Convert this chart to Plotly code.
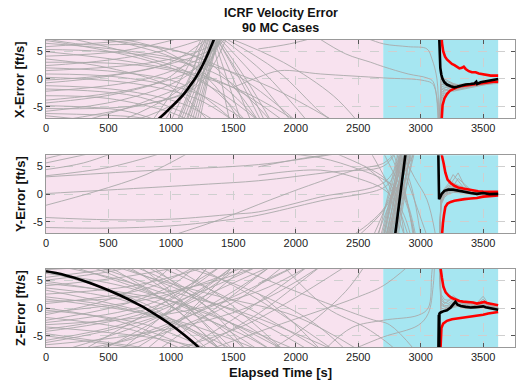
import plotly.graph_objects as go

# ---------------- axes ----------------
x_ticks = [0, 500, 1000, 1500, 2000, 2500, 3000, 3500]
y_ticks = [-5, 0, 5]
y_tick_text = ["-5", "0", "5"]
x_max = 3755
y_lim = 7

# mission phases shaded behind the curves
phase_bounds = [0, 2700, 3620]
phase_fill = ["#f8e2ef", "#a6e6f1"]

panel_titles = ["X-Error [ft/s]", "Y-Error [ft/s]", "Z-Error [ft/s]"]

# common sample times of the converged tail of every MC case [s]
tail_t = [3147, 3162, 3190, 3220, 3260, 3300, 3350, 3400, 3450, 3500, 3550, 3620]

# ---------------- X component ----------------
x_cases = [
    [(0, 7.2), (300, 6.2), (900, 5.8), (1500, 1.0), (2000, -7.5)],
    [(0, 6.9), (500, 5.0), (1000, 2.0), (1400, -2.5), (1700, -7.5)],
    [(0, 6.4), (600, 5.2), (1300, 2.5), (1800, -1.5), (2300, -7.5)],
    [(0, 5.8), (500, 6.6), (1000, 7.5)],
    [(0, 5.3), (800, 4.2), (1400, 0.5), (1800, -7.5)],
    [(0, 4.9), (700, 3.0), (1400, -0.5), (1900, -7.5)],
    [(0, 4.1), (600, 5.0), (1100, 7.5)],
    [(0, 3.6), (500, 2.0), (1000, -1.5), (1300, -7.5)],
    [(0, 3.0), (800, 2.3), (1500, -1.5), (2000, -7.5)],
    [(0, 2.4), (500, 3.4), (1000, 5.4), (1300, 7.5)],
    [(0, 2.0), (600, 1.2), (1100, -1.0), (1500, -7.5)],
    [(0, 1.5), (800, 2.8), (1200, 4.8), (1450, 7.5)],
    [(0, 0.9), (600, 0.3), (1200, -2.5), (1600, -7.5)],
    [(0, 0.3), (700, -0.8), (1200, -3.5), (1500, -7.5)],
    [(0, -0.2), (700, 1.3), (1300, 5.0), (1450, 7.5)],
    [(0, -0.7), (500, 0.5), (1000, 3.0), (1300, 7.5)],
    [(0, -1.2), (600, -2.0), (1100, -4.5), (1350, -7.5)],
    [(0, -1.8), (700, -3.0), (1100, -6.0), (1250, -7.5)],
    [(0, -2.2), (800, 0.0), (1300, 4.5), (1450, 7.5)],
    [(0, -3.0), (500, -3.5), (1000, -6.0), (1150, -7.5)],
    [(0, -3.8), (700, -1.8), (1200, 2.0), (1400, 7.5)],
    [(0, -4.3), (600, -2.5), (1000, 0.5), (1300, 7.5)],
    [(0, -4.8), (600, -5.6), (900, -7.5)],
    [(0, -5.3), (800, -4.5), (1200, -1.0), (1350, 7.5)],
    [(0, -5.8), (600, -3.8), (1100, 0.2), (1350, 5.5), (1420, 7.5)],
    [(0, -6.2), (700, -6.8), (900, -7.5)],
    [(0, -6.6), (400, -7.5)],
    [(100, -7.5), (700, -5.0), (1200, -1.5), (1450, 7.5)],
    [(150, 7.5), (700, 4.5), (1200, 0.5), (1600, -7.5)],
    [(250, 7.5), (800, 6.0), (1300, 3.0), (1700, -7.5)],
    [(300, -7.5), (800, -4.0), (1250, 1.0), (1400, 7.5)],
    [(400, 7.5), (1000, 4.0), (1400, -1.0), (1700, -7.5)],
    [(500, 7.5), (900, 5.5), (1300, 0.0), (1550, -7.5)],
    [(600, -7.5), (1000, -3.0), (1300, 3.0), (1400, 7.5)],
    [(700, -7.5), (1050, -4.0), (1250, 2.0), (1320, 7.5)],
    [(850, -7.5), (1080, 0.0), (1250, 7.5)],
    [(950, -7.5), (1120, -1.0), (1280, 7.5)],
    [(1000, -7.5), (1150, 0.0), (1260, 7.5)],
    [(1050, -7.5), (1180, 0.0), (1290, 7.5)],
    [(1060, -7.5), (1160, -2.0), (1310, 7.5)],
    [(1080, -7.5), (1200, 0.0), (1300, 7.5)],
    [(1100, -7.5), (1220, 0.0), (1320, 7.5)],
    [(1120, -7.5), (1240, 0.0), (1340, 7.5)],
    [(1130, -7.5), (1230, -1.0), (1330, 7.5)],
    [(1150, -7.5), (1250, 0.0), (1345, 7.5)],
    [(1170, -7.5), (1265, 0.0), (1360, 7.5)],
    [(1190, -7.5), (1280, 0.0), (1370, 7.5)],
    [(1210, -7.5), (1290, 0.0), (1375, 7.5)],
    [(1230, -7.5), (1300, 0.0), (1380, 7.5)],
    [(1330, 7.5), (1400, 0.0), (1470, -7.5)],
    [(1340, 7.5), (1450, 0.0), (1560, -7.5)],
    [(1350, 7.5), (1500, 0.0), (1640, -7.5)],
    [(1360, 7.5), (1500, 2.5), (1650, -3.0), (1750, -7.5)],
    [(1360, 7.5), (1550, 0.0), (1720, -7.5)],
    [(1370, 7.5), (1600, 0.0), (1800, -7.5)],
    [(1380, 7.5), (1650, 1.0), (1960, -7.5)],
    [(1400, 7.5), (1750, 1.0), (2090, -7.5)],
    [(1420, 7.5), (1850, 1.5), (2200, -6.0), (2300, -7.5)],
    [(1450, 7.5), (1900, 3.0), (2300, -3.0), (2490, -7.5)],
    [(1700, 5.4), (1950, 6.3), (2160, 7.5)],
    [(1500, -1.5), (1700, 0.3), (1875, 1.5), (2200, 0.9), (2700, 0.2),
     (3030, -0.3), (3100, -1.0), (3145, -9.0)],
    [(2170, 7.5), (2400, 4.5), (2600, 3.0), (2703, 2.2), (2900, 0.9),
     (3050, 0.2), (3100, -0.5), (3140, -9.0)],
    [(2550, 7.5), (2703, 6.3), (2900, 5.8), (3050, 5.4), (3090, 3.6),
     (3130, 0.0), (3145, -9.0)],
]
x_tails = [
    [-12, -3.0, -2.0, -1.8, -1.9, -1.7, -1.5, -1.3, -1.1, -0.9, -0.8, -0.6],
    [-12, -2.0, -1.5, -1.5, -1.6, -1.5, -1.3, -1.2, -1.0, -0.8, -0.6, -0.4],
    [-12, -1.0, -0.8, -1.0, -1.2, -1.3, -1.1, -0.9, -0.8, -0.7, -0.5, -0.3],
    [-12, -4.0, -2.6, -2.3, -2.0, -1.9, -1.6, -1.4, -1.2, -1.0, -0.9, -0.7],
    [-12, 0.0, -0.3, -0.6, -0.9, -1.0, -0.9, -0.7, -0.6, -0.5, -0.3, -0.1],
    [-12, -2.5, -1.9, -2.1, -2.2, -2.0, -1.8, -1.5, -1.3, -1.1, -0.9, -0.8],
    [-12, -1.5, -1.2, -1.3, -1.5, -1.6, -1.4, -1.0, -0.9, -0.6, -0.4, -0.2],
    [-12, 0.5, 0.0, -0.4, -0.8, -1.1, -1.2, -1.1, -0.9, -0.8, -0.6, -0.4],
    [-12, -3.5, -2.3, -1.7, -1.4, -1.3, -1.2, -1.1, -0.9, -0.6, -0.5, -0.3],
    [-12, -1.0, -1.0, -1.4, -1.8, -1.8, -1.6, -1.4, -1.2, -1.0, -0.7, -0.5],
    [-12, -2.0, -1.7, -1.2, -1.0, -1.2, -1.3, -1.3, -1.1, -0.9, -0.7, -0.5],
    [-12, -0.5, -0.6, -0.9, -1.1, -1.4, -1.5, -1.2, -1.0, -0.7, -0.6, -0.4],
]
x_nominal = [
    (880, -7.6), (950, -6.2), (1000, -5.1), (1050, -4.0), (1100, -2.8),
    (1150, -1.3), (1200, 0.3), (1250, 2.3), (1300, 4.7), (1350, 7.4),
    (1380, 9.0), None,
    (3146, 9.0), (3150, 4.0), (3157, 2.0), (3165, 0.8), (3175, 0.0),
    (3190, -0.6), (3210, -1.0), (3240, -1.3), (3270, -1.5), (3290, -1.4),
    (3320, -1.2), (3360, -1.0), (3400, -0.9), (3430, -0.8), (3445, -0.5),
    (3452, -0.9), (3480, -0.6), (3520, -0.4), (3560, -0.2), (3600, 0.0),
    (3620, 0.0),
]
x_upper = [
    (3165, 9.0), (3170, 6.5), (3180, 5.0), (3195, 4.0), (3210, 3.5),
    (3230, 3.0), (3250, 2.7), (3270, 2.5), (3290, 2.2), (3310, 1.9),
    (3330, 2.0), (3345, 2.2), (3360, 1.8), (3385, 1.4), (3410, 1.2),
    (3440, 1.2), (3465, 1.0), (3490, 0.9), (3520, 0.7), (3560, 0.6),
    (3620, 0.6),
]
x_lower = [
    (3163, -9.0), (3167, -6.5), (3175, -4.7), (3190, -3.5), (3210, -2.7),
    (3235, -2.1), (3260, -1.8), (3290, -1.5), (3320, -1.3), (3350, -1.2),
    (3380, -1.1), (3410, -1.0), (3440, -0.9), (3470, -0.8), (3500, -0.7),
    (3540, -0.6), (3580, -0.5), (3620, -0.5),
]

# ---------------- Y component ----------------
y_cases = [
    [(0, 6.4), (200, 7.5)],
    [(0, 5.6), (400, 7.5)],
    [(0, 4.4), (300, 5.6), (550, 7.5)],
    [(0, 3.3), (500, 4.8), (950, 7.5)],
    [(0, 3.1), (800, 4.2), (1700, 5.3), (2200, 6.8), (2400, 7.5)],
    [(0, 0.1), (700, 1.0), (1300, 1.8), (1700, 2.4), (2300, 4.0), (2700, 5.0), (2800, 7.5)],
    [(0, -2.0), (400, 0.5), (800, 3.5), (1150, 7.5)],
    [(0, -4.2), (500, -4.6), (1000, -4.5), (1500, -3.6), (1700, -3.2), (2200, -0.5),
     (2714, 2.2), (2850, 7.5)],
    [(0, -6.0), (500, -6.1), (1000, -5.7), (1500, -4.5), (1700, -3.8), (2200, -1.2),
     (2714, 1.3), (2800, 4.0), (2880, 7.5)],
    [(1000, -7.5), (1400, -4.5), (1800, -1.0), (2100, 1.5), (2500, 4.5), (2700, 5.5), (2800, 7.5)],
    [(1700, 4.9), (2050, 6.4), (2400, 7.5)],
    [(1800, 7.5), (2200, 6.5), (2500, 4.5), (2714, 2.5), (2850, 0.0), (2950, -7.5)],
    [(1700, 3.4), (2200, 4.3), (2500, 2.8), (2714, 0.7), (2850, -3.0), (2920, -7.5)],
    [(2300, 7.5), (2550, 5.0), (2714, 2.8), (2800, 0.0), (2870, -7.5)],
    [(2450, -7.5), (2600, -5.0), (2714, -2.3), (2800, 2.0), (2870, 7.5)],
    [(2620, -7.5), (2730, -1.5), (2830, 7.5)],
    [(2650, -7.5), (2760, -1.0), (2880, 7.5)],
    [(2660, -7.5), (2740, 0.0), (2820, 7.5)],
    [(2680, -7.5), (2760, -0.5), (2850, 7.5)],
    [(2690, -7.5), (2770, 0.0), (2840, 7.5)],
    [(2700, -7.5), (2780, 0.0), (2860, 7.5)],
    [(2705, -7.5), (2775, 0.5), (2835, 7.5)],
    [(2710, -7.5), (2785, 0.5), (2845, 7.5)],
    [(2720, -7.5), (2800, 0.0), (2880, 7.5)],
    [(2725, -7.5), (2805, 0.5), (2890, 7.5)],
    [(2730, -7.5), (2790, 0.0), (2850, 7.5)],
    [(2735, -7.5), (2800, -1.0), (2875, 7.5)],
    [(2740, -7.5), (2810, 0.0), (2870, 7.5)],
    [(2745, -7.5), (2815, -0.5), (2890, 7.5)],
    [(2750, -7.5), (2825, 0.0), (2910, 7.5)],
    [(2755, -7.5), (2820, 0.5), (2885, 7.5)],
    [(2760, -7.5), (2830, 0.0), (2900, 7.5)],
    [(2765, -7.5), (2845, 0.0), (2930, 7.5)],
    [(2770, -7.5), (2835, 0.0), (2895, 7.5)],
    [(2780, -7.5), (2850, 0.0), (2920, 7.5)],
    [(2790, -7.5), (2855, 0.5), (2915, 7.5)],
    [(2800, -7.5), (2870, 0.0), (2940, 7.5)],
    [(2810, -7.5), (2860, 0.0), (2920, 7.5)],
    [(2820, -7.5), (2880, 0.5), (2950, 7.5)],
    [(2500, -7.5), (2700, -3.0), (2850, 3.0), (2950, 7.5)],
    [(2600, 7.5), (2700, 3.5), (2800, -1.0), (2900, -7.5)],
    [(2550, 5.0), (2700, 2.0), (2800, -3.0), (2870, -7.5)],
    [(2700, 7.5), (2800, 3.0), (2900, -2.0), (2960, -7.5)],
    [(2750, 7.5), (2850, 2.0), (2950, -7.5)],
    [(2780, 7.5), (2880, 0.0), (2940, -7.5)],
    [(2800, 7.5), (2900, 2.0), (2980, -3.0), (3050, -7.5)],
    [(2830, 7.5), (2930, 1.0), (3000, -7.5)],
    [(2850, 7.5), (2950, 3.0), (3050, -1.0), (3120, -7.5)],
]
y_tails = [
    [-12, -1.0, 0.2, 0.6, 0.9, 0.7, 0.5, 0.3, 0.1, 0.2, 0.0, 0.0],
    [-12, -0.5, 0.6, 1.2, 1.6, 1.2, 0.7, 0.4, 0.2, 0.1, 0.1, 0.1],
    [-12, -1.5, -0.3, 0.2, 0.5, 0.4, 0.3, 0.1, 0.0, -0.1, 0.0, -0.1],
    [-12, -0.2, 1.0, 1.8, 3.5, 2.4, 1.0, 0.6, 0.3, 0.2, 0.2, 0.1],
    [-12, -0.8, 0.4, 1.0, 2.5, 3.8, 1.5, 0.7, 0.4, 0.3, 0.2, 0.1],
    [-12, -2.0, -0.6, 0.0, 0.3, 0.3, 0.2, 0.0, -0.2, -0.1, -0.1, -0.1],
    [-12, -1.2, 0.0, 0.5, 1.2, 1.0, 0.8, 0.5, 0.3, 0.1, 0.1, 0.0],
    [-12, -0.6, 0.8, 1.5, 2.0, 1.6, 1.0, 0.6, 0.4, 0.3, 0.2, 0.1],
    [-12, -1.8, -0.2, 0.4, 0.7, 0.6, 0.6, 0.4, 0.2, 0.0, 0.0, 0.0],
    [-12, -1.0, 0.3, 0.9, 1.4, 2.8, 1.8, 0.8, 0.4, 0.2, 0.1, 0.0],
]
y_nominal = [
    (2785, -9.0), (2797, -7.0), (2837, 0.0), (2877, 7.0), (2885, 8.5), None,
    (3140, 9.0), (3143, 2.0), (3147, -0.9), (3155, -0.6), (3170, 0.1),
    (3190, 0.6), (3220, 0.8), (3260, 0.8), (3300, 0.6), (3350, 0.4),
    (3400, 0.2), (3450, 0.05), (3500, 0.2), (3550, 0.0), (3620, 0.05),
]
y_upper = [
    (3165, 9.0), (3170, 6.9), (3184, 5.5), (3197, 3.9), (3215, 2.6),
    (3240, 2.0), (3270, 1.5), (3300, 1.2), (3340, 1.0), (3380, 0.8),
    (3420, 0.6), (3460, 0.5), (3500, 0.45), (3540, 0.4), (3580, 0.45),
    (3620, 0.4),
]
y_lower = [
    (3165, -9.0), (3170, -7.0), (3178, -5.2), (3186, -3.8), (3197, -2.3),
    (3215, -1.7), (3240, -1.4), (3270, -1.2), (3300, -1.05), (3350, -0.9),
    (3400, -0.8), (3450, -0.7), (3500, -0.45), (3550, -0.4), (3620, -0.25),
]

# ---------------- Z component ----------------
z_cases = [
    [(0, 6.9), (500, 7.5)],
    [(0, 6.5), (400, 4.0), (900, -0.5), (1300, -7.5)],
    [(0, 6.2), (600, 4.0), (1400, -2.0), (2000, -7.5)],
    [(0, 5.5), (700, 7.5)],
    [(0, 5.0), (500, 6.5), (700, 7.5)],
    [(0, 4.8), (800, 1.5), (1500, -4.0), (1800, -7.5)],
    [(0, 4.4), (700, 2.5), (1200, 0.0), (1900, -7.5)],
    [(0, 4.0), (600, 5.5), (1100, 7.5)],
    [(0, 3.6), (600, 1.5), (1100, -3.0), (1400, -7.5)],
    [(0, 3.2), (900, -1.5), (1500, -7.5)],
    [(0, 2.5), (700, 4.0), (1300, 7.5)],
    [(0, 2.0), (600, 0.0), (1100, -3.5), (1400, -7.5)],
    [(0, 1.6), (1000, -2.0), (1700, -7.5)],
    [(0, 1.2), (700, 2.0), (1300, 4.5), (1700, 7.5)],
    [(0, 0.8), (800, 3.5), (1200, 7.5)],
    [(0, 0.0), (600, -2.5), (1200, -7.5)],
    [(0, -0.4), (800, -3.0), (1300, -7.5)],
    [(0, -0.8), (900, 2.0), (1600, 7.5)],
    [(0, -1.2), (500, 1.5), (900, 5.5), (1000, 7.5)],
    [(0, -1.7), (700, -4.0), (1100, -7.5)],
    [(0, -2.2), (600, 0.5), (1000, 4.0), (1200, 7.5)],
    [(0, -2.6), (800, 0.5), (1400, 7.5)],
    [(0, -3.0), (1000, -1.0), (1700, 3.0), (2100, 7.5)],
    [(0, -3.4), (900, -5.5), (1300, -7.5)],
    [(0, -3.8), (500, -2.0), (1000, 1.5), (1400, 7.5)],
    [(0, -4.2), (700, -1.5), (1300, 3.5), (1700, 7.5)],
    [(0, -4.6), (900, -7.5)],
    [(0, -5.0), (500, -6.5), (800, -7.5)],
    [(0, -5.8), (600, -3.0), (1100, 1.5), (1500, 7.5)],
    [(0, -6.2), (500, -4.0), (1000, -0.5), (1400, 5.0), (1550, 7.5)],
    [(0, -6.6), (800, -4.5), (1600, 0.0), (2200, 7.5)],
    [(100, 7.5), (600, 5.0), (1100, 1.0), (1600, -7.5)],
    [(150, -7.5), (700, -3.5), (1400, 3.5), (1800, 7.5)],
    [(200, 7.5), (800, 3.0), (1300, -2.0), (1700, -7.5)],
    [(250, -7.5), (700, -5.5), (1100, -2.0), (1500, 3.0), (1800, 7.5)],
    [(300, -7.5), (800, -1.0), (1200, 5.0), (1300, 7.5)],
    [(350, 7.5), (900, 2.0), (1400, -7.5)],
    [(400, 7.5), (1000, 3.0), (1600, -1.0), (2300, -7.5)],
    [(400, -7.5), (900, -3.5), (1400, 1.0), (2000, 7.5)],
    [(450, -7.5), (900, -2.0), (1300, 4.0), (1500, 7.5)],
    [(500, 7.5), (1000, 0.5), (1400, -7.5)],
    [(550, 7.5), (900, 5.0), (1400, 2.0), (2000, -1.5), (2500, -7.5)],
    [(550, -7.5), (1000, -4.0), (1500, 1.0), (1900, 7.5)],
    [(600, 7.5), (1100, 3.0), (1700, -2.5), (2100, -7.5)],
    [(600, -7.5), (1000, 0.0), (1300, 7.5)],
    [(650, 7.5), (1000, 2.5), (1500, -7.5)],
    [(700, 7.5), (1000, 4.5), (1300, 0.0), (1600, -7.5)],
    [(700, -7.5), (1100, -1.5), (1500, 7.5)],
    [(750, 7.5), (1100, 1.0), (1450, -7.5)],
    [(800, 7.5), (1200, 2.5), (1600, -3.0), (1900, -7.5)],
    [(800, -7.5), (1200, 0.0), (1600, 7.5)],
    [(850, 7.5), (1300, 0.0), (1800, -7.5)],
    [(900, 7.5), (1250, 4.0), (1700, -1.0), (2200, -7.5)],
    [(900, -7.5), (1300, -1.0), (1800, 7.5)],
    [(1000, 7.5), (1400, 2.0), (1900, -7.5)],
    [(1000, -7.5), (1600, -3.0), (2400, 7.5)],
    [(1100, 7.5), (1600, 3.5), (2100, -2.0), (2400, -7.5)],
    [(1100, -7.5), (1500, -2.0), (2100, 7.5)],
    [(1200, 7.5), (1700, 1.5), (2300, -7.5)],
    [(1200, -7.5), (1700, -1.0), (2000, 4.0), (2200, 7.5)],
    [(1300, -7.5), (1800, -3.5), (2500, 2.0), (2700, 4.0), (2900, 7.5)],
    [(1500, 7.5), (2000, 3.0), (2600, -2.0), (2750, -3.0), (2950, -7.5)],
    [(1700, 4.4), (1850, 6.0), (2000, 7.5)],
    [(1700, 2.6), (1950, -2.0), (2200, -7.5)],
    [(1800, -7.5), (2100, -3.0), (2400, 3.0), (2550, 7.5)],
    [(1900, 7.5), (2250, 0.0), (2550, -3.4), (2720, -6.0), (2800, -7.5)],
    [(2230, -7.5), (2450, -3.5), (2700, -2.2), (2980, -1.3), (3060, 0.0),
     (3088, 6.0), (3100, 9.0)],
    [(2450, -7.5), (2700, -5.2), (2980, -3.1), (3060, -1.0), (3100, 4.0),
     (3112, 9.0)],
]
z_tails = [
    [12, 1.0, 0.5, 0.3, 0.6, 0.8, 0.4, 0.2, 0.3, 0.4, 0.1, -0.2],
    [12, 0.0, -0.2, 0.1, 0.9, 1.3, 0.6, 0.3, 0.5, 0.7, 0.2, -0.1],
    [12, 2.0, 1.0, 0.8, 1.4, 1.0, 0.7, 0.4, 0.6, 1.6, 0.3, 0.0],
    [12, -0.5, -0.5, -0.2, 0.3, 0.6, 0.2, 0.0, 0.1, 0.2, -0.1, -0.3],
    [12, 1.5, 0.8, 1.2, 1.8, 1.2, 0.8, 0.6, 0.7, 0.9, 0.4, 0.1],
    [12, 0.5, 0.2, 0.0, 0.4, 0.5, 0.3, 0.1, 0.2, 0.3, 0.0, -0.2],
    [12, -0.8, -0.6, -0.4, 0.1, 0.3, 0.0, -0.1, 0.0, 0.1, -0.2, -0.4],
    [12, 2.5, 1.5, 1.4, 2.2, 1.5, 1.0, 0.7, 0.9, 2.1, 0.5, 0.1],
    [12, 0.8, 0.3, 0.5, 1.1, 0.9, 0.5, 0.3, 0.4, 0.5, 0.2, 0.0],
]
z_nominal = [
    (0, 6.6), (100, 6.2), (200, 5.6), (300, 4.9), (400, 4.1), (500, 3.2),
    (600, 2.2), (700, 1.1), (800, -0.1), (900, -1.5), (1000, -3.0),
    (1100, -4.7), (1200, -6.6), (1260, -8.0), None,
    (3141, -9.0), (3145, -1.2), (3148, -9.0), (3150, -1.0), (3160, -0.8),
    (3180, -0.6), (3210, -0.4), (3240, 0.1), (3265, 0.8), (3278, 1.1),
    (3295, 0.6), (3320, 0.35), (3360, 0.2), (3400, 0.1), (3440, 0.15),
    (3480, 0.25), (3500, 0.3), (3520, 0.15), (3560, 0.0), (3600, -0.2),
    (3620, -0.3),
]
z_upper = [
    (3155, 9.0), (3160, 7.0), (3170, 5.4), (3182, 3.8), (3200, 2.8),
    (3225, 2.2), (3250, 1.8), (3280, 1.45), (3310, 1.25), (3340, 1.15),
    (3380, 1.1), (3420, 1.0), (3450, 0.8), (3480, 0.95), (3510, 1.1),
    (3530, 0.9), (3570, 0.75), (3620, 0.5),
]
z_lower = [
    (3155, -9.0), (3160, -6.0), (3166, -3.6), (3180, -2.8), (3210, -2.3),
    (3250, -2.0), (3300, -1.85), (3350, -1.7), (3400, -1.6), (3450, -1.4),
    (3500, -1.2), (3540, -1.0), (3580, -0.85), (3620, -0.7),
]

panels = [
    (x_cases, x_tails, x_nominal, x_upper, x_lower),
    (y_cases, y_tails, y_nominal, y_upper, y_lower),
    (z_cases, z_tails, z_nominal, z_upper, z_lower),
]

GRAY = "#a9a9a9"
FONT = "Liberation Sans, Arial, Helvetica, sans-serif"


def unzip(points):
    ts, vs = [], []
    for p in points:
        if p is None:
            ts.append(None)
            vs.append(None)
        else:
            ts.append(p[0])
            vs.append(p[1])
    return ts, vs


def join_strands(strands):
    ts, vs = [], []
    for s in strands:
        a, b = unzip(s)
        ts += a + [None]
        vs += b + [None]
    return ts, vs


def split_segments(points):
    segs, cur = [], []
    for p in points:
        if p is None:
            segs.append(cur)
            cur = []
        else:
            cur.append(p)
    segs.append(cur)
    return [s for s in segs if s]


fig = go.Figure()
domains = [[0.746, 1.0], [0.371, 0.625], [0.0, 0.254]]

for i, (cases, tails, nominal, upper, lower) in enumerate(panels):
    k = "" if i == 0 else str(i + 1)
    xa, ya = "x" + k, "y" + k

    t, v = join_strands(cases)
    fig.add_trace(go.Scatter(x=t, y=v, mode="lines", xaxis=xa, yaxis=ya,
                             line=dict(color=GRAY, width=0.9, shape="spline"),
                             hoverinfo="skip", showlegend=False))
    t, v = join_strands([list(zip(tail_t, tv)) for tv in tails])
    fig.add_trace(go.Scatter(x=t, y=v, mode="lines", xaxis=xa, yaxis=ya,
                             line=dict(color=GRAY, width=0.9),
                             hoverinfo="skip", showlegend=False))
    for bound in (upper, lower):
        t, v = unzip(bound)
        fig.add_trace(go.Scatter(x=t, y=v, mode="lines", xaxis=xa, yaxis=ya,
                                 line=dict(color="#ff0000", width=2.6),
                                 hoverinfo="skip", showlegend=False))
    for seg in split_segments(nominal):
        t, v = unzip(seg)
        shape = "spline" if seg[0][0] < 3000 else "linear"
        fig.add_trace(go.Scatter(x=t, y=v, mode="lines", xaxis=xa, yaxis=ya,
                                 line=dict(color="#000000", width=2.6, shape=shape),
                                 hoverinfo="skip", showlegend=False))

    for j in range(len(phase_fill)):
        fig.add_shape(type="rect", xref=xa, yref=ya + " domain",
                      x0=phase_bounds[j], x1=phase_bounds[j + 1], y0=0, y1=1,
                      fillcolor=phase_fill[j], line_width=0, layer="below")

    axis_common = dict(showline=True, linecolor="#999999", linewidth=1,
                       mirror="ticks", ticks="inside", ticklen=4,
                       tickcolor="#555555", showgrid=True, gridcolor="#cfcfcf",
                       griddash="dash", gridwidth=1, zeroline=False,
                       tickfont=dict(family=FONT, size=11, color="#222222"))
    fig.update_layout({
        "xaxis" + k: dict(axis_common, domain=[0, 1], range=[0, x_max],
                          anchor=ya, tickvals=x_ticks),
        "yaxis" + k: dict(axis_common, domain=domains[i], range=[-y_lim, y_lim],
                          anchor=xa, tickvals=y_ticks, ticktext=y_tick_text),
    })
    fig.add_annotation(text="<b>%s</b>" % panel_titles[i], textangle=-90,
                       xref="paper", yref="paper", x=-0.0555,
                       y=sum(domains[i]) / 2, xanchor="center", yanchor="middle",
                       showarrow=False, font=dict(family=FONT, size=13, color="#111111"))

fig.add_annotation(text="<b>ICRF Velocity Error</b>", xref="paper", yref="paper",
                   x=0.5, y=1 + 27 / 307, xanchor="center", yanchor="middle",
                   showarrow=False, font=dict(family=FONT, size=12.5, color="#111111"))
fig.add_annotation(text="<b>90 MC Cases</b>", xref="paper", yref="paper",
                   x=0.5, y=1 + 12 / 307, xanchor="center", yanchor="middle",
                   showarrow=False, font=dict(family=FONT, size=12.5, color="#111111"))
fig.add_annotation(text="<b>Elapsed Time [s]</b>", xref="paper", yref="paper",
                   x=0.5, y=-25.5 / 307, xanchor="center", yanchor="middle",
                   showarrow=False, font=dict(family=FONT, size=13, color="#111111"))

fig.update_layout(width=517, height=384, margin=dict(l=46, r=2, t=40, b=37),
                  paper_bgcolor="white", plot_bgcolor="white")

fig.write_html("out.html")
